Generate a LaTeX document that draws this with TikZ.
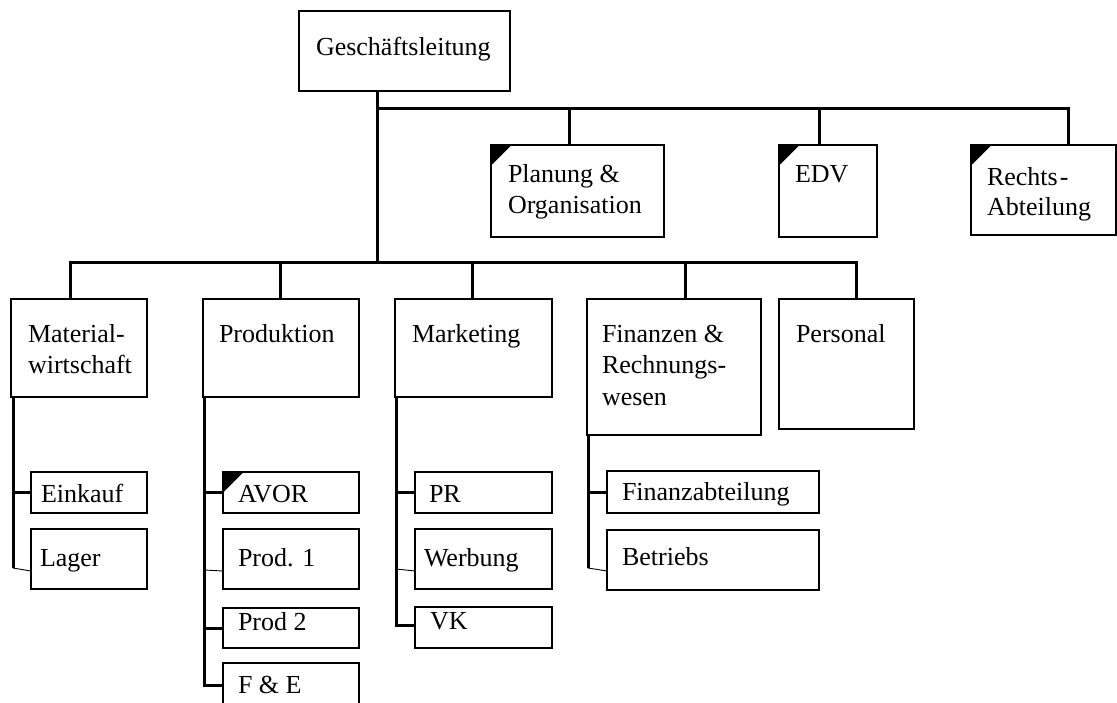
\documentclass[tikz,border=0pt]{standalone}
\usepackage{fontspec}
\setmainfont{Liberation Serif}
\usetikzlibrary{calc}

\tikzset{
  orgbox/.style={draw=black, line width=1.6pt, rectangle, inner sep=0pt, outer sep=0pt, anchor=north west},
  lbl/.style={anchor=base west, inner sep=0pt, outer sep=0pt, font=\fontsize{26}{31}\selectfont},
  conn/.style={line width=3pt, line join=miter},
  link/.style={line width=0.9pt}
}

% box: name, left, top, width, height
\newcommand\orgnode[5]{\node[orgbox, minimum width=#4pt, minimum height=#5pt] (#1) at (#2,#3) {};}
% one line of text: name, left, baseline, text
\newcommand\orgtext[4]{\node[lbl] (#1) at (#2,#3) {#4};}
% black corner flag of a staff unit
\newcommand\staffmark[1]{\fill ([shift={(0.8,0.8)}]#1.north west) -- ++(19,0) -- ++(-19,19) -- cycle;}

\begin{document}
\begin{tikzpicture}[x=1pt, y=-1pt]
\clip (0,0) rectangle (1117,702);
\fill[white] (0,0) rectangle (1117,702);

% management and staff units
\orgnode{gl}{299}{11}{211}{80}
\orgtext{gl-t}{316}{55}{Geschäftsleitung}

\orgnode{plan}{491}{145}{173}{92}
\orgtext{plan-t1}{508}{182}{Planung \&}
\orgtext{plan-t2}{508}{213}{Organisation}

\orgnode{edv}{779}{145}{98}{92}
\orgtext{edv-t}{795}{182}{EDV}

\orgnode{recht}{971}{145}{145}{90}
\orgtext{recht-t1}{987}{185}{Rechts\kern2pt-}
\orgtext{recht-t2}{987}{215}{Abteilung}

% departments
\orgnode{mat}{11}{299}{136}{98}
\orgtext{mat-t1}{28}{342}{Material-}
\orgtext{mat-t2}{28}{373}{wirtschaft}

\orgnode{prod}{203}{299}{156}{98}
\orgtext{prod-t}{219}{342}{Produktion}

\orgnode{mark}{395}{299}{157}{98}
\orgtext{mark-t}{412}{342}{Marketing}

\orgnode{fin}{587}{299}{174}{136}
\orgtext{fin-t1}{602}{342}{Finanzen \&}
\orgtext{fin-t2}{602}{373}{Rechnungs-}
\orgtext{fin-t3}{602}{405}{wesen}

\orgnode{pers}{779}{299}{135}{130}
\orgtext{pers-t}{796}{342}{Personal}

% sub-units
\orgnode{ein}{31}{472}{116}{41}
\orgtext{ein-t}{41}{502}{Einkauf}
\orgnode{lag}{31}{529}{116}{60}
\orgtext{lag-t}{40}{566}{Lager}

\orgnode{avor}{223}{472}{136}{41}
\orgtext{avor-t}{238}{502}{AVOR}
\orgnode{p1}{223}{529}{136}{60}
\orgtext{p1-t}{238}{566}{Prod. 1}
\orgnode{p2}{223}{608}{136}{40}
\orgtext{p2-t}{238}{630}{Prod 2}
\orgnode{fe}{223}{663}{136}{60}
\orgtext{fe-t}{238}{693}{F \& E}

\orgnode{pr}{415}{472}{137}{41}
\orgtext{pr-t}{429}{502}{PR}
\orgnode{werb}{415}{529}{137}{60}
\orgtext{werb-t}{424}{566}{Werbung}
\orgnode{vk}{415}{607}{137}{41}
\orgtext{vk-t}{430}{629}{VK}

\orgnode{fab}{607}{471}{212}{42}
\orgtext{fab-t}{622}{500}{Finanzabteilung}
\orgnode{betr}{607}{530}{212}{60}
\orgtext{betr-t}{622}{565}{Betriebs}

% staff flags
\staffmark{plan}
\staffmark{edv}
\staffmark{recht}
\staffmark{avor}

% junction points of the reporting lines
\coordinate (top) at (377,108);
\coordinate (mid) at (377,262);
\coordinate (sPlan) at (569,108);
\coordinate (sEdv) at (819,108);
\coordinate (sRecht) at (1068,108);
\coordinate (sMat) at (70,262);
\coordinate (sProd) at (280,262);
\coordinate (sMark) at (472,262);
\coordinate (sFin) at (685,262);
\coordinate (sPers) at (856,262);

% management spine and staff line
\draw[conn] (gl.south -| top) -- (mid);
\draw[conn] (top) -- (sRecht) -- (sRecht |- recht.north);
\draw[conn] (sPlan) -- (sPlan |- plan.north);
\draw[conn] (sEdv) -- (sEdv |- edv.north);

% department line
\draw[conn] (sMat |- mat.north) -- (sMat) -- (sPers) -- (sPers |- pers.north);
\draw[conn] (sProd) -- (sProd |- prod.north);
\draw[conn] (sMark) -- (sMark |- mark.north);
\draw[conn] (sFin) -- (sFin |- fin.north);

% Materialwirtschaft
\coordinate (vMat) at ($(mat.south west)+(2,0)$);
\coordinate (eMat) at (13,568);
\draw[conn] (vMat) -- (eMat);
\draw[conn] (vMat |- ein.west) -- (ein.west);
\draw[link] (eMat) -- ($(lag.south west)+(0,-18)$);

% Produktion
\coordinate (vProd) at ($(prod.south west)+(1,0)$);
\coordinate (eProd) at (204,685);
\draw[conn] (vProd) -- (eProd) -- (eProd -| fe.west);
\draw[conn] (vProd |- avor.west) -- (avor.west);
\draw[link] (204,570) -- ($(p1.south west)+(0,-18)$);
\draw[conn] (vProd |- p2.west) -- (p2.west);

% Marketing
\coordinate (vMark) at ($(mark.south west)+(1,0)$);
\coordinate (eMark) at (396,625);
\draw[conn] (vMark) -- (eMark) -- (eMark -| vk.west);
\draw[conn] (vMark |- pr.west) -- (pr.west);
\draw[link] (396,569) -- ($(werb.south west)+(0,-18)$);

% Finanzen & Rechnungswesen
\coordinate (vFin) at ($(fin.south west)+(1,0)$);
\coordinate (eFin) at (588,568);
\draw[conn] (vFin) -- (eFin);
\draw[conn] (vFin |- fab.west) -- (fab.west);
\draw[link] (eFin) -- ($(betr.south west)+(0,-19)$);
\end{tikzpicture}
\end{document}
